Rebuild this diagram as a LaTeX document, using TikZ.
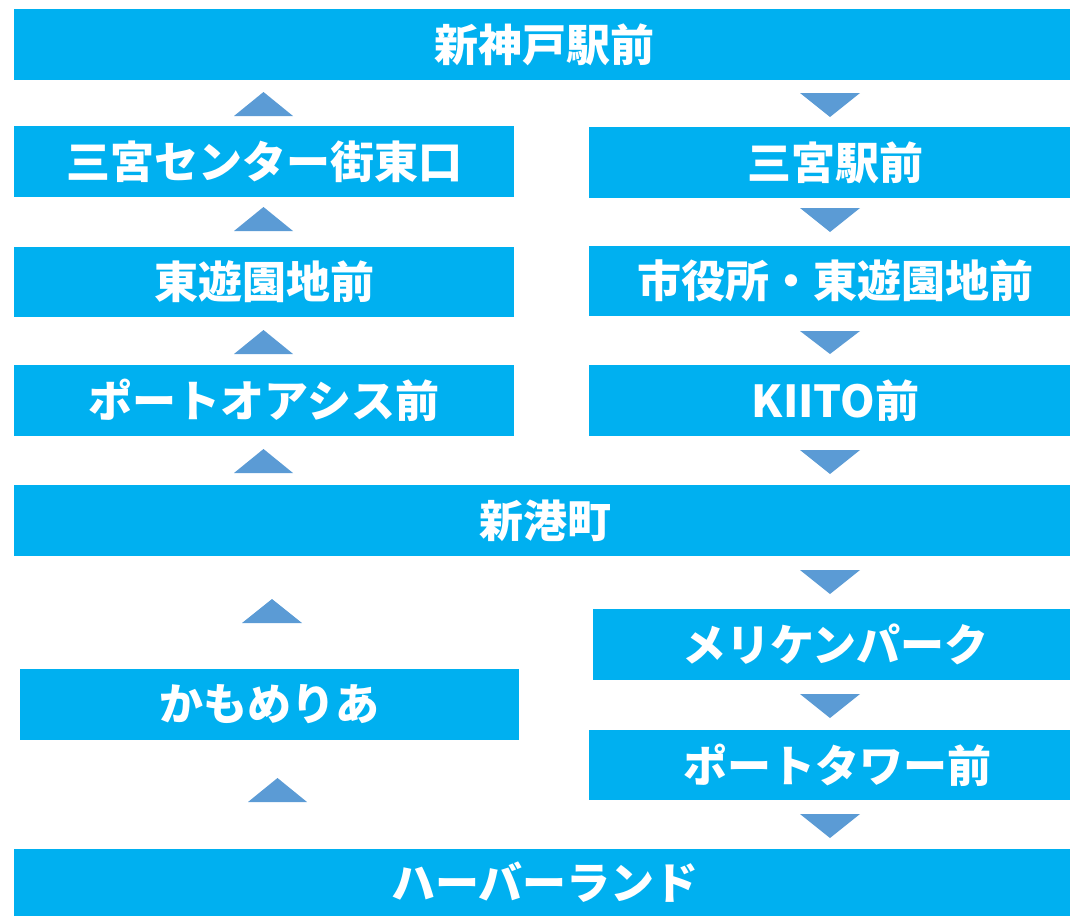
\documentclass[tikz,border=0pt]{standalone}
\usepackage{fontspec}
\setmainfont{Noto Sans CJK JP}
\definecolor{boxblue}{HTML}{00B0F0}
\definecolor{triblue}{HTML}{5B9BD5}
\begin{document}
\begin{tikzpicture}[x=1pt,y=-1pt,
  stop/.style={fill=boxblue,text=white,inner sep=0pt,outer sep=0pt,anchor=north west,
    font=\fontsize{44}{48}\selectfont\bfseries},
  tri/.style={fill=triblue}]
\useasboundingbox (0,0) rectangle (1070,916);
% boxes
\node[stop,minimum width=1056pt,minimum height=71pt] (shinkobe) at (14,9) {\hspace*{4pt}新神戸駅前};
\node[stop,minimum width=500pt,minimum height=71pt] (center) at (14,126) {三宮センター街東口};
\node[stop,minimum width=481pt,minimum height=71pt] (sannomiya) at (589,127) {\hspace*{12pt}三宮駅前};
\node[stop,minimum width=500pt,minimum height=70pt] (higashiL) at (14,247) {東遊園地前};
\node[stop,minimum width=481pt,minimum height=70pt] (shiyakusho) at (589,246) {\hspace*{12pt}市役所・東遊園地前};
\node[stop,minimum width=500pt,minimum height=71pt] (oasis) at (14,365) {ポートオアシス前};
\node[stop,minimum width=481pt,minimum height=71pt] (kiito) at (589,365) {\hspace*{12pt}KIITO前};
\node[stop,minimum width=1056pt,minimum height=71pt] (shinko) at (14,485) {\hspace*{6pt}新港町};
\node[stop,minimum width=477pt,minimum height=71pt] (meriken) at (593,609) {\hspace*{8pt}メリケンパーク};
\node[stop,minimum width=499pt,minimum height=71pt] (kamome) at (20,669) {かもめりあ};
\node[stop,minimum width=481pt,minimum height=70pt] (tower) at (589,730) {\hspace*{16pt}ポートタワー前};
\node[stop,minimum width=1056pt,minimum height=67pt] (harbor) at (14,849) {\hspace*{6pt}ハーバーランド};
% up triangles (left column)
\fill[tri] (234,116) -- (263.5,92) -- (293,116) -- cycle;
\fill[tri] (234,231) -- (263.5,207) -- (293,231) -- cycle;
\fill[tri] (234,354) -- (263.5,330) -- (293,354) -- cycle;
\fill[tri] (234,473) -- (263.5,449) -- (293,473) -- cycle;
\fill[tri] (242,623) -- (272,599) -- (302,623) -- cycle;
\fill[tri] (248,802) -- (277.5,778) -- (307,802) -- cycle;
% down triangles (right column)
\fill[tri] (800,93) -- (830,117) -- (860,93) -- cycle;
\fill[tri] (800,208) -- (830,232) -- (860,208) -- cycle;
\fill[tri] (800,331) -- (830,354) -- (860,331) -- cycle;
\fill[tri] (800,450) -- (830,474) -- (860,450) -- cycle;
\fill[tri] (800,570) -- (830,594) -- (860,570) -- cycle;
\fill[tri] (800,694) -- (830,718) -- (860,694) -- cycle;
\fill[tri] (800,814) -- (830,838) -- (860,814) -- cycle;
\end{tikzpicture}
\end{document}
